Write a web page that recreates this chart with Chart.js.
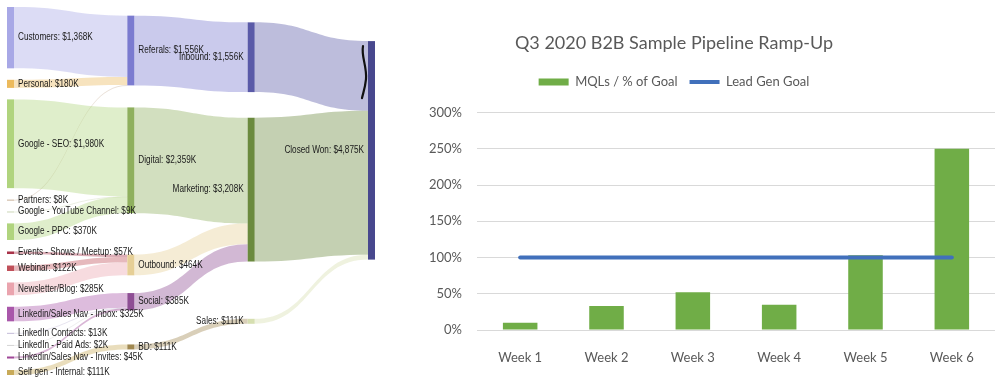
<!DOCTYPE html>
<html>
<head>
<meta charset="utf-8">
<script src="https://cdn.jsdelivr.net/npm/chart.js@4.4.1/dist/chart.umd.min.js"></script>
<style>
  html, body { margin: 0; padding: 0; background: #fff; }
  #wrap { position: relative; width: 1000px; height: 381px; overflow: hidden; }
  #sankey { position: absolute; left: 0; top: 0; }
  #pipeline { position: absolute; left: 353px; top: 0; }
</style>
</head>
<body>
<div id="wrap">
  <canvas id="sankey" width="380" height="381"></canvas>
  <canvas id="pipeline" width="647" height="381"></canvas>
</div>
<script>
// Sankey: nodos (en orden de columna) y flujos en $K
const nodeNames = [
  'Customers', 'Personal', 'Google - SEO', 'Partners', 'Google - YouTube Channel',
  'Google - PPC', 'Events - Shows / Meetup', 'Webinar', 'Newsletter/Blog',
  'Linkedin/Sales Nav - Inbox', 'LinkedIn Contacts', 'LinkedIn - Paid Ads',
  'Linkedin/Sales Nav - Invites', 'Self gen - Internal',
  'Referals', 'Digital', 'Outbound', 'Social', 'BD',
  'Inbound', 'Marketing', 'Sales',
  'Closed Won'
];
const flowFrom = [
  'Customers', 'Personal', 'Partners',
  'Google - SEO', 'Google - YouTube Channel', 'Google - PPC',
  'Events - Shows / Meetup', 'Webinar', 'Newsletter/Blog',
  'Linkedin/Sales Nav - Inbox', 'LinkedIn Contacts', 'LinkedIn - Paid Ads', 'Linkedin/Sales Nav - Invites',
  'Self gen - Internal',
  'Referals', 'Digital', 'Outbound', 'Social', 'BD',
  'Inbound', 'Marketing', 'Sales'
];
const flowTo = [
  'Referals', 'Referals', 'Referals',
  'Digital', 'Digital', 'Digital',
  'Outbound', 'Outbound', 'Outbound',
  'Social', 'Social', 'Social', 'Social',
  'BD',
  'Inbound', 'Marketing', 'Marketing', 'Marketing', 'Sales',
  'Closed Won', 'Closed Won', 'Closed Won'
];
const flowValues = [
  1368, 180, 8,
  1980, 9, 370,
  57, 122, 285,
  325, 13, 2, 45,
  111,
  1556, 2359, 464, 385, 111,
  1556, 3208, 111
];

// Rampa semanal
const weeks = ['Week 1', 'Week 2', 'Week 3', 'Week 4', 'Week 5', 'Week 6'];
const mqlPct = [0.10, 0.33, 0.52, 0.35, 1.03, 2.50];
const leadGenGoal = [1, 1, 1, 1, 1, 1];

// colores de nodos (mismo orden que nodeNames)
const nodeColors = [
  '#a8a8e6', '#ecba5c', '#b0d47e', '#c9b29a', '#ccd6b8',
  '#b0d47e', '#a83248', '#c0505a', '#eaa4ae',
  '#a957aa', '#c4bcd8', '#d4d4d4',
  '#a04898', '#c8aa58',
  '#7b7bd0', '#8fb05e', '#e6cf96', '#8e4e94', '#a08850',
  '#5a5aa8', '#6b8a3e', '#d6dfb0',
  '#48488e'
];

function hexAlpha(hex, a) {
  const r = parseInt(hex.slice(1, 3), 16), g = parseInt(hex.slice(3, 5), 16), b = parseInt(hex.slice(5, 7), 16);
  return 'rgba(' + r + ',' + g + ',' + b + ',' + a + ')';
}

// Layout tipo d3-sankey (relajacion), en coordenadas normalizadas 0..1
function buildSankey(nodeW, pad, iterations) {
  const nodes = nodeNames.map((name, i) => ({ name, index: i, sourceLinks: [], targetLinks: [], layer: 0 }));
  const byName = {};
  nodes.forEach(n => byName[n.name] = n);
  const links = flowValues.map((v, i) => {
    const l = { index: i, source: byName[flowFrom[i]], target: byName[flowTo[i]], value: v };
    l.source.sourceLinks.push(l);
    l.target.targetLinks.push(l);
    return l;
  });
  nodes.forEach(n => {
    const sIn = n.targetLinks.reduce((s, l) => s + l.value, 0);
    const sOut = n.sourceLinks.reduce((s, l) => s + l.value, 0);
    n.value = Math.max(sIn, sOut);
  });
  for (let k = 0; k < nodes.length; k++) {
    links.forEach(l => { l.target.layer = Math.max(l.target.layer, l.source.layer + 1); });
  }
  const maxLayer = Math.max(...nodes.map(n => n.layer));
  nodes.forEach(n => { if (!n.sourceLinks.length) n.layer = maxLayer; });
  const columns = [];
  nodes.forEach(n => { (columns[n.layer] = columns[n.layer] || []).push(n); });
  nodes.forEach(n => { n.x0 = n.layer * (1 - nodeW) / maxLayer; n.x1 = n.x0 + nodeW; });

  const byTarget = (a, b) => (a.target.y0 - b.target.y0) || (a.index - b.index);
  const bySource = (a, b) => (a.source.y0 - b.source.y0) || (a.index - b.index);
  function reorderLinks(n) { n.sourceLinks.sort(byTarget); n.targetLinks.sort(bySource); }
  function reorderNodeLinks(n) {
    n.targetLinks.forEach(l => l.source.sourceLinks.sort(byTarget));
    n.sourceLinks.forEach(l => l.target.targetLinks.sort(bySource));
  }

  const ky = Math.min(...columns.map(c => (1 - (c.length - 1) * pad) / c.reduce((s, n) => s + n.value, 0)));
  columns.forEach(c => {
    let y = 0;
    c.forEach(n => {
      n.y0 = y; n.y1 = y + n.value * ky; y = n.y1 + pad;
      n.sourceLinks.forEach(l => l.width = l.value * ky);
    });
    y = (1 - y + pad) / (c.length + 1);
    c.forEach((n, i) => { n.y0 += y * (i + 1); n.y1 += y * (i + 1); });
    c.forEach(reorderLinks);
  });

  // posicion ideal para que el enlace quede horizontal
  function targetTop(source, target) {
    let y = source.y0;
    for (const l of source.sourceLinks) { if (l.target === target) break; y += l.width; }
    for (const l of target.targetLinks) { if (l.source === source) break; y -= l.width; }
    return y;
  }
  function sourceTop(source, target) {
    let y = target.y0;
    for (const l of target.targetLinks) { if (l.source === source) break; y += l.width; }
    for (const l of source.sourceLinks) { if (l.target === target) break; y -= l.width; }
    return y;
  }
  function topToBottom(c, y, i) {
    for (; i < c.length; ++i) {
      const n = c[i], dy = y - n.y0;
      if (dy > 1e-6) { n.y0 += dy; n.y1 += dy; }
      y = n.y1 + pad;
    }
  }
  function bottomToTop(c, y, i) {
    for (; i >= 0; --i) {
      const n = c[i], dy = n.y1 - y;
      if (dy > 1e-6) { n.y0 -= dy; n.y1 -= dy; }
      y = n.y0 - pad;
    }
  }
  function resolveCollisions(c) {
    const i = c.length >> 1, s = c[i];
    bottomToTop(c, s.y0 - pad, i - 1);
    topToBottom(c, s.y1 + pad, i + 1);
    bottomToTop(c, 1, c.length - 1);
    topToBottom(c, 0, 0);
  }

  for (let it = 0; it < iterations; it++) {
    const alpha = Math.pow(0.99, it);
    for (let i = columns.length - 2; i >= 0; --i) {
      columns[i].forEach(src => {
        let y = 0, w = 0;
        src.sourceLinks.forEach(l => { const v = l.value * (l.target.layer - src.layer); y += sourceTop(src, l.target) * v; w += v; });
        if (!(w > 0)) return;
        const dy = (y / w - src.y0) * alpha;
        src.y0 += dy; src.y1 += dy;
        reorderNodeLinks(src);
      });
      resolveCollisions(columns[i]);
    }
    for (let i = 1; i < columns.length; ++i) {
      columns[i].forEach(tgt => {
        let y = 0, w = 0;
        tgt.targetLinks.forEach(l => { const v = l.value * (tgt.layer - l.source.layer); y += targetTop(l.source, tgt) * v; w += v; });
        if (!(w > 0)) return;
        const dy = (y / w - tgt.y0) * alpha;
        tgt.y0 += dy; tgt.y1 += dy;
        reorderNodeLinks(tgt);
      });
      resolveCollisions(columns[i]);
    }
  }

  nodes.forEach(reorderLinks);
  nodes.forEach(n => {
    let a = n.y0, b = n.y0;
    n.sourceLinks.forEach(l => { l.sy = a; a += l.width; });
    n.targetLinks.forEach(l => { l.ty = b; b += l.width; });
  });
  return { nodes, links, maxLayer };
}

const graph = buildSankey(7 / 368, 11.5 / 368, 52);

function drawLabel(ctx, text, x, y, align) {
  ctx.save();
  ctx.translate(x, y);
  ctx.scale(0.82, 1);
  ctx.textAlign = align;
  ctx.textBaseline = 'middle';
  ctx.fillText(text, 0, 0);
  ctx.restore();
}

const sankeyPlugin = {
  id: 'sankeyDraw',
  afterDatasetsDraw(chart) {
    const ctx = chart.ctx;
    const xs = chart.scales.x, ys = chart.scales.y;
    const px = v => xs.getPixelForValue(v);
    const py = v => ys.getPixelForValue(v);
    ctx.save();
    // flujos
    graph.links.forEach(l => {
      const x0 = px(l.source.x1), x1 = px(l.target.x0), xm = (x0 + x1) / 2;
      const a0 = py(l.sy), b0 = py(l.ty);
      const w = Math.max(1, py(l.sy + l.width) - a0);
      ctx.fillStyle = hexAlpha(nodeColors[l.source.index], 0.4);
      ctx.beginPath();
      ctx.moveTo(x0, a0);
      ctx.bezierCurveTo(xm, a0, xm, b0, x1, b0);
      ctx.lineTo(x1, b0 + w);
      ctx.bezierCurveTo(xm, b0 + w, xm, a0 + w, x0, a0 + w);
      ctx.closePath();
      ctx.fill();
    });
    // nodos
    graph.nodes.forEach(n => {
      const top = py(n.y0), h = Math.max(1, py(n.y1) - top);
      ctx.fillStyle = nodeColors[n.index];
      ctx.fillRect(px(n.x0), top, px(n.x1) - px(n.x0), h);
    });
    // etiquetas
    ctx.fillStyle = '#1a1a1a';
    ctx.font = '10px "Liberation Sans", Arial, sans-serif';
    graph.nodes.forEach(n => {
      const text = n.name + ': $' + n.value.toLocaleString('en-US') + 'K';
      const yc = (py(n.y0) + py(n.y1)) / 2;
      if (n.layer < graph.maxLayer / 2) drawLabel(ctx, text, px(n.x1) + 4, yc, 'left');
      else drawLabel(ctx, text, px(n.x0) - 4, yc, 'right');
    });
    // marca a mano junto a Closed Won
    const cw = graph.nodes[graph.nodes.length - 1];
    const mx = px(cw.x0) - 4, my = py(cw.y0);
    ctx.strokeStyle = '#111';
    ctx.lineWidth = 2.2;
    ctx.lineCap = 'round';
    ctx.beginPath();
    ctx.moveTo(mx - 1, my + 5);
    ctx.bezierCurveTo(mx - 3, my + 15, mx + 3, my + 25, mx + 2, my + 38);
    ctx.bezierCurveTo(mx + 1, my + 48, mx - 1, my + 52, mx - 2, my + 57);
    ctx.stroke();
    ctx.restore();
  }
};

new Chart(document.getElementById('sankey'), {
  type: 'scatter',
  data: { datasets: [] },
  options: {
    responsive: false,
    animation: false,
    layout: { padding: { left: 7, right: 5, top: 7, bottom: 6 } },
    plugins: { legend: { display: false }, tooltip: { enabled: false } },
    scales: {
      x: { type: 'linear', min: 0, max: 1, display: false },
      y: { type: 'linear', min: 0, max: 1, reverse: true, display: false }
    }
  },
  plugins: [sankeyPlugin]
});

// Grafica derecha: barras + linea de meta
const tickFont = { family: 'Lato', size: 13 };
const legendGap = {
  id: 'legendGap',
  beforeInit(chart) {
    const fit = chart.legend.fit;
    chart.legend.fit = function () { fit.call(this); this.height += 14; };
  }
};

new Chart(document.getElementById('pipeline'), {
  type: 'bar',
  data: {
    labels: weeks,
    datasets: [
      {
        type: 'bar', label: 'MQLs / % of Goal', data: mqlPct,
        backgroundColor: '#70ad47', barPercentage: 0.4, categoryPercentage: 1,
        pointStyle: 'rect', order: 2
      },
      {
        type: 'line', label: 'Lead Gen Goal', data: leadGenGoal,
        borderColor: '#4170bb', borderWidth: 4, borderCapStyle: 'round',
        pointRadius: 0, pointStyle: 'line', fill: false, order: 1
      }
    ]
  },
  options: {
    responsive: false,
    animation: false,
    layout: { padding: { left: 0, right: 5, top: 0, bottom: 0 } },
    plugins: {
      title: {
        display: true, text: 'Q3 2020 B2B Sample Pipeline Ramp-Up', color: '#595959',
        font: { family: 'Lato', size: 18, weight: 'normal' }, padding: { top: 32, bottom: 10 }
      },
      legend: {
        labels: {
          usePointStyle: true, pointStyleWidth: 30, boxHeight: 7,
          color: '#595959', font: tickFont, padding: 12,
          sort: (a, b) => a.datasetIndex - b.datasetIndex
        }
      },
      tooltip: { enabled: false }
    },
    scales: {
      x: {
        grid: { display: false }, border: { display: false },
        ticks: { color: '#595959', font: tickFont, padding: 12 },
        afterFit: s => { s.height = 51; }
      },
      y: {
        min: 0, max: 3,
        grid: { color: '#d9d9d9', drawTicks: false }, border: { display: false },
        ticks: { stepSize: 0.5, color: '#595959', font: tickFont, padding: 15, callback: v => Math.round(v * 100) + '%' },
        afterFit: s => { s.width = 124; }
      }
    }
  },
  plugins: [legendGap]
});
</script>
</body>
</html>
